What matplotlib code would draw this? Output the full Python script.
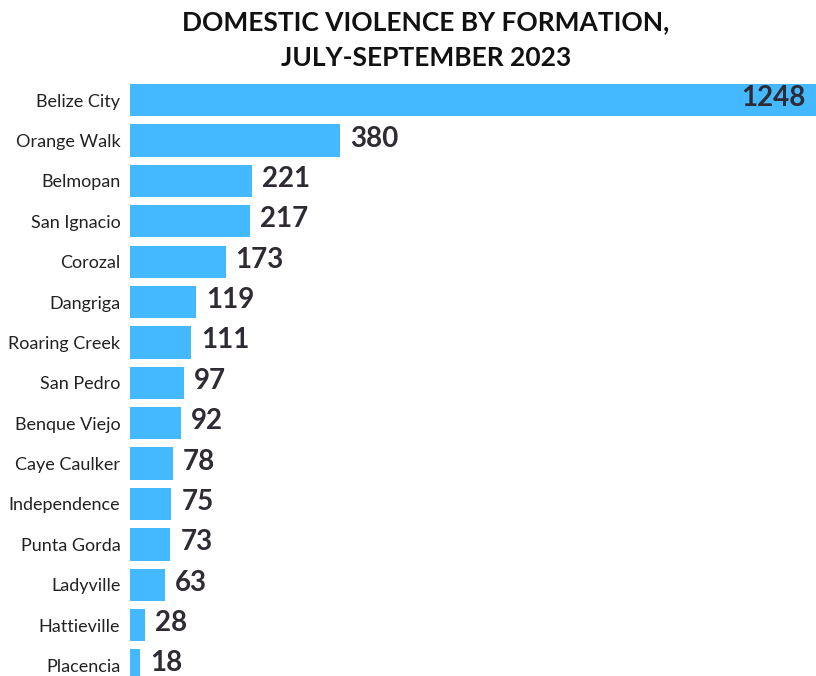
import matplotlib.pyplot as plt

formations = ['Belize City', 'Orange Walk', 'Belmopan', 'San Ignacio', 'Corozal',
              'Dangriga', 'Roaring Creek', 'San Pedro', 'Benque Viejo', 'Caye Caulker',
              'Independence', 'Punta Gorda', 'Ladyville', 'Hattieville', 'Placencia']
cases = [1248, 380, 221, 217, 173, 119, 111, 97, 92, 78, 75, 73, 63, 28, 18]

bar_color = '#45B9FF'
text_color = '#2F2A33'

fig = plt.figure(figsize=(8.16, 6.76), dpi=100)
ax = fig.add_axes([130/816, 0, 686/816, 592/676])

ypos = list(range(len(formations)))
ax.barh(ypos, cases, height=0.8, color=bar_color)
ax.set_xlim(0, 1240)
# row spacing ~40.4 px, first bar centre at y=100 px
ax.set_ylim(14.26, -0.40)

for y, v in zip(ypos, cases):
    if v > 1240:
        ax.text(1222, y - 0.05, str(v), ha='right', va='center', fontsize=20,
                fontweight='bold', color=text_color, family='Lato')
    else:
        ax.text(v + 18, y - 0.05, str(v), ha='left', va='center', fontsize=20,
                fontweight='bold', color=text_color, family='Lato')

ax.set_yticks(ypos)
ax.set_yticklabels(formations, fontsize=13, color='#222222', family='Lato')
ax.tick_params(axis='y', length=0, pad=7)
ax.set_xticks([])
for s in ax.spines.values():
    s.set_visible(False)

fig.text(0.522, 0.967, 'DOMESTIC VIOLENCE BY FORMATION,', ha='center', va='center',
         fontsize=19, fontweight='bold', family='Lato', color='#111111')
fig.text(0.522, 0.914, 'JULY-SEPTEMBER 2023', ha='center', va='center',
         fontsize=19, fontweight='bold', family='Lato', color='#111111')

fig.savefig('out.png', dpi=100)
